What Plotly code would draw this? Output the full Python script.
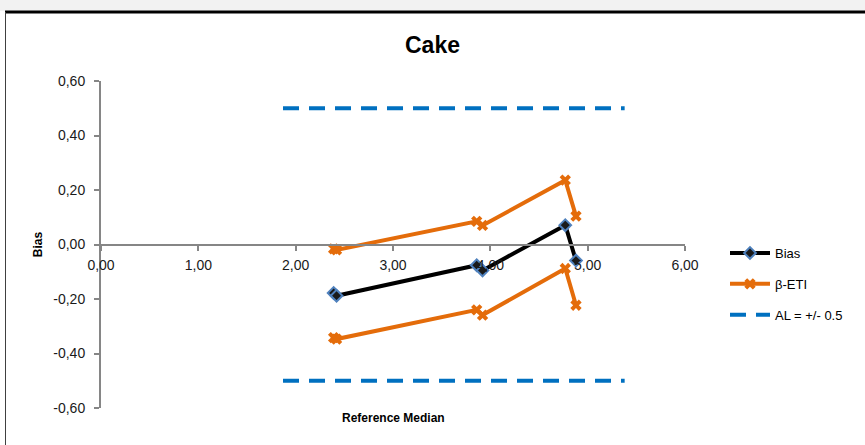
import plotly.graph_objects as go

# Data
ref_median = [2.39, 2.42, 3.86, 3.92, 4.77, 4.88]
bias = [-0.178, -0.188, -0.076, -0.095, 0.071, -0.059]
eti_upper = [-0.016, -0.020, 0.085, 0.070, 0.236, 0.104]
eti_lower = [-0.342, -0.347, -0.240, -0.259, -0.088, -0.223]
al_x = [1.87, 5.38]
al_upper = [0.5, 0.5]
al_lower = [-0.5, -0.5]

x_ticks = [0, 1, 2, 3, 4, 5, 6]
x_ticktext = ["0,00", "1,00", "2,00", "3,00", "4,00", "5,00", "6,00"]
y_ticks = [-0.6, -0.4, -0.2, 0, 0.2, 0.4, 0.6]
y_ticktext = ["-0,60", "-0,40", "-0,20", "0,00", "0,20", "0,40", "0,60"]

ORANGE = "#E46C0A"
BLUE = "#0070C0"
FONT = "Liberation Sans"

# plot area in pixels
L, R, T, B = 101, 685, 81, 408
W, H = 865, 445
pw, ph = R - L, B - T

def px2x(px):
    return (px - L) / pw

def py2y(py):
    return (B - py) / ph

fig = go.Figure()

fig.add_trace(go.Scatter(
    x=ref_median, y=bias, mode="lines+markers", name="Bias",
    line=dict(color="black", width=4),
    marker=dict(symbol="diamond", size=9, color="#1a1a1a",
                line=dict(color="#4F81BD", width=2)),
    legendgroup="a",
))
fig.add_trace(go.Scatter(
    x=ref_median, y=eti_upper, mode="lines+markers", name="β-ETI",
    line=dict(color=ORANGE, width=4),
    marker=dict(symbol="x", size=10, color=ORANGE),
    legendgroup="b",
))
fig.add_trace(go.Scatter(
    x=ref_median, y=eti_lower, mode="lines+markers", name="β-ETI",
    line=dict(color=ORANGE, width=4),
    marker=dict(symbol="x", size=10, color=ORANGE),
    legendgroup="b", showlegend=False,
))
fig.add_trace(go.Scatter(
    x=al_x, y=al_upper, mode="lines", name="AL = +/- 0.5",
    line=dict(color=BLUE, width=4, dash="16px,10px"),
    legendgroup="c",
))
fig.add_trace(go.Scatter(
    x=al_x, y=al_lower, mode="lines", name="AL = +/- 0.5",
    line=dict(color=BLUE, width=4, dash="16px,10px"),
    legendgroup="c", showlegend=False,
))

shapes = [
    # top grey band
    dict(type="rect", xref="paper", yref="paper",
         x0=px2x(0), x1=px2x(W), y0=py2y(11), y1=py2y(0),
         fillcolor="#F2F2F2", line=dict(width=0), layer="below"),
    # black top frame line
    dict(type="line", xref="paper", yref="paper",
         x0=px2x(5), x1=px2x(W), y0=py2y(12), y1=py2y(12),
         line=dict(color="black", width=3)),
    # left frame line
    dict(type="line", xref="paper", yref="paper",
         x0=px2x(5.5), x1=px2x(5.5), y0=py2y(12), y1=py2y(H),
         line=dict(color="#404040", width=1)),
]

fig.update_layout(
    width=W, height=H,
    margin=dict(l=L, r=W - R, t=T, b=H - B, pad=0),
    paper_bgcolor="white", plot_bgcolor="white",
    font=dict(family=FONT, size=13, color="#1a1a1a"),
    title=dict(text="<b>Cake</b>", x=0.5, xref="container", xanchor="center",
               y=1 - 45 / H, yanchor="middle",
               font=dict(family=FONT, size=23, color="black")),
    xaxis=dict(range=[0, 6], tickvals=x_ticks, ticktext=x_ticktext,
               showgrid=False, zeroline=False, showline=True,
               linecolor="#868686", linewidth=2,
               ticks="outside", ticklen=5, tickwidth=2, tickcolor="#868686",
               anchor="free", position=0.5, ticklabelstandoff=3,
               tickfont=dict(family=FONT, size=14, color="#1a1a1a")),
    yaxis=dict(range=[-0.6, 0.6], tickvals=y_ticks, ticktext=y_ticktext,
               showgrid=False, zeroline=False, showline=True,
               linecolor="#868686", linewidth=2,
               ticks="outside", ticklen=5, tickwidth=2, tickcolor="#868686",
               ticklabelstandoff=6,
               tickfont=dict(family=FONT, size=14, color="#1a1a1a"),
               title=dict(text="<b>Bias</b>", standoff=8,
                          font=dict(family=FONT, size=12, color="black"))),
    legend=dict(x=px2x(725), xanchor="left", y=py2y(238), yanchor="top",
                tracegroupgap=11, bgcolor="rgba(0,0,0,0)",
                font=dict(family=FONT, size=13, color="black"),
                itemwidth=40),
    shapes=shapes,
    annotations=[dict(text="<b>Reference Median</b>", xref="paper", yref="paper",
                      x=0.5, y=py2y(418), xanchor="center", yanchor="middle",
                      showarrow=False, font=dict(family=FONT, size=12, color="black"))],
)

fig.write_html("out.html", config={"displayModeBar": False},
               post_script="document.body.style.margin='0';document.body.style.overflow='hidden';")
